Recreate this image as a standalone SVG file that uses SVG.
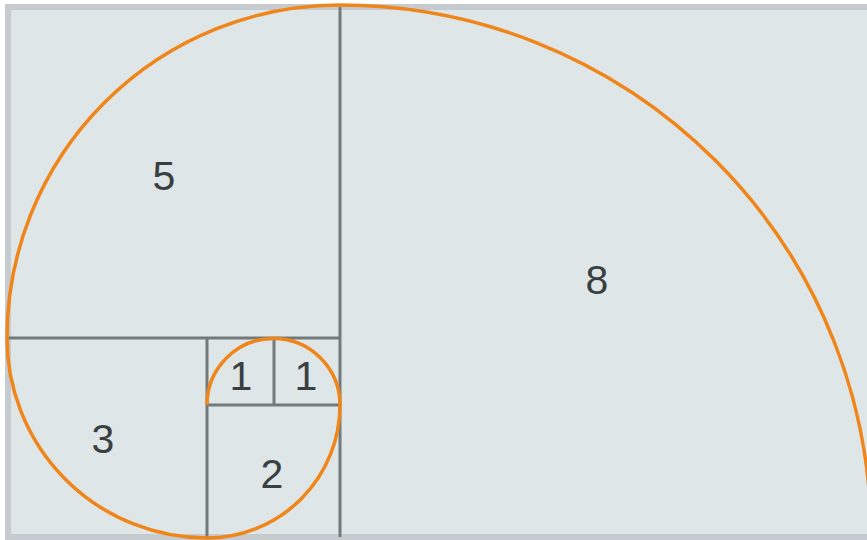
<svg xmlns="http://www.w3.org/2000/svg" width="867" height="540" viewBox="0 0 867 540">
<style>
.grid{stroke:#737a7d;stroke-width:3;fill:none}
.spiral{stroke:#f08519;stroke-width:3.5;fill:none}
.lbl{font-family:"Liberation Sans",Arial,sans-serif;font-size:41px;fill:#3a3f42;text-anchor:middle}
</style>
<rect x="0" y="0" width="867" height="540" fill="#ffffff"/>
<rect x="8" y="7" width="880" height="530" fill="#dfe6e8" stroke="#c6cbcf" stroke-width="6"/>
<g id="square-8"><text class="lbl" x="597" y="294">8</text></g>
<g id="square-5"><text class="lbl" x="164" y="190">5</text></g>
<g id="square-3"><text class="lbl" x="103" y="453">3</text></g>
<g id="square-2"><text class="lbl" x="272" y="488">2</text></g>
<g id="square-1a"><text class="lbl" x="241" y="390">1</text></g>
<g id="square-1b"><text class="lbl" x="306" y="390">1</text></g>
<g id="connectors">
<path class="grid" d="M8,338 H340 M340,7 V537 M207,338 V537 M207,405 H340 M274,338 V405"/>
<path class="spiral" d="M207,405 A66.5,66.5 0 1 1 340,405 A133,133 0 0 1 207,538 A200,200 0 0 1 7,338 A333,333 0 0 1 340,5 A531,531 0 0 1 871,536"/>
</g>
</svg>
